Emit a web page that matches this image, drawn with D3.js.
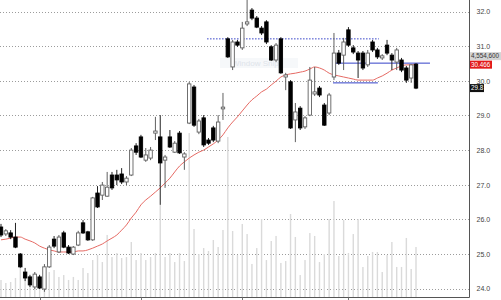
<!DOCTYPE html>
<html>
<head>
<meta charset="utf-8">
<script src="https://cdn.jsdelivr.net/npm/d3@7"></script>
<style>
  body { margin: 0; background: #fff; }
  svg { display: block; }
  text { font-family: "Liberation Sans", Arial, sans-serif; }
</style>
</head>
<body>
<svg id="chart" width="501" height="300"></svg>
<script>
"use strict";

// === Daily bars, oldest first ===
const opens = [
  25.78, 25.58, 25.61, 25.49, 25.00, 24.48, 24.34, 24.05, 24.34, 23.99,
  24.63, 25.43, 25.06, 25.61, 25.20, 25.00, 25.26, 25.90, 25.64, 25.41,
  26.76, 26.70, 26.67, 27.28, 27.28, 27.31, 27.08, 27.28, 28.12, 28.38,
  27.71, 27.77, 28.49, 28.38, 27.71, 28.38, 27.94, 28.49, 27.80, 28.78,
  29.82, 28.52, 28.93, 28.29, 28.64, 28.26, 29.19, 31.21, 30.40, 31.12,
  30.95, 31.64, 32.04, 31.81, 31.52, 31.70, 30.98, 30.60, 31.21, 30.11,
  29.97, 28.87, 29.21, 28.67, 29.01, 29.62, 29.79, 29.30, 29.07, 30.11,
  30.80, 30.74, 31.47, 30.95, 30.80, 30.80, 30.46, 31.12, 30.89, 30.66,
  31.03, 30.74, 30.54, 30.60, 30.37, 30.08, 30.48
];
const highs = [
  25.87, 25.72, 25.69, 25.90, 25.03, 24.60, 24.40, 24.48, 24.40, 24.71,
  25.26, 25.52, 25.55, 25.67, 25.26, 25.23, 25.67, 25.98, 25.67, 26.65,
  26.96, 27.08, 27.37, 27.37, 27.43, 27.48, 27.25, 28.06, 28.20, 28.44,
  28.06, 28.09, 28.96, 29.01, 27.86, 28.58, 28.26, 28.55, 27.94, 29.97,
  29.88, 28.90, 29.01, 28.35, 28.70, 29.01, 29.65, 31.26, 31.18, 31.18,
  31.70, 32.35, 32.10, 31.87, 31.58, 31.75, 31.03, 31.09, 31.26, 30.23,
  30.02, 29.36, 29.27, 28.98, 30.40, 30.40, 29.85, 29.36, 29.65, 31.38,
  30.89, 31.24, 31.55, 31.03, 30.86, 30.86, 30.89, 31.18, 30.95, 30.77,
  31.18, 30.80, 30.95, 30.66, 30.43, 30.48, 30.51
];
const lows = [
  25.49, 25.52, 25.43, 25.17, 24.60, 24.22, 24.05, 23.99, 23.99, 23.91,
  24.60, 25.17, 25.03, 25.17, 25.00, 24.97, 25.23, 25.58, 25.38, 25.38,
  26.33, 26.56, 26.65, 26.85, 26.99, 27.02, 26.99, 27.25, 27.86, 27.77,
  27.66, 27.71, 28.29, 26.42, 26.91, 28.06, 27.92, 27.89, 27.43, 28.75,
  28.67, 28.46, 28.09, 28.15, 28.23, 28.20, 28.87, 30.66, 30.31, 30.98,
  30.89, 31.58, 31.75, 31.52, 31.32, 31.06, 30.57, 30.54, 30.20, 29.73,
  28.61, 28.23, 28.58, 28.61, 28.98, 29.56, 29.53, 28.70, 29.01, 30.02,
  30.46, 30.31, 30.98, 30.77, 30.08, 30.31, 30.40, 30.83, 30.63, 30.60,
  30.74, 30.31, 30.31, 30.25, 29.94, 29.94, 29.76
];
const closes = [
  25.55, 25.67, 25.49, 25.20, 24.63, 24.31, 24.11, 24.42, 24.02, 24.63,
  25.20, 25.23, 25.49, 25.20, 25.03, 25.20, 25.61, 25.61, 25.41, 26.62,
  26.36, 26.99, 26.93, 26.91, 27.14, 27.08, 27.19, 28.00, 27.94, 27.80,
  27.86, 28.00, 28.55, 27.63, 27.80, 28.09, 28.20, 27.92, 27.89, 29.91,
  28.72, 28.84, 28.15, 28.20, 28.29, 28.81, 29.24, 30.69, 31.12, 31.03,
  31.52, 31.70, 31.81, 31.55, 31.38, 31.12, 30.60, 31.03, 30.23, 30.17,
  28.64, 29.10, 28.64, 28.93, 30.02, 29.68, 29.59, 28.72, 29.59, 30.80,
  30.51, 31.12, 31.03, 30.83, 30.60, 30.37, 30.80, 30.89, 30.69, 30.72,
  30.80, 30.60, 30.89, 30.31, 30.02, 30.46, 29.79
];
// volume in millions of shares
const volumes = [
  1.61, 1.34, 1.43, 1.79, 2.68, 1.88, 1.79, 2.32, 1.88, 1.34,
  2.32, 2.50, 1.88, 2.05, 1.61, 1.88, 1.61, 2.68, 2.23, 3.39,
  3.84, 3.21, 5.63, 3.66, 4.02, 3.57, 3.66, 5.00, 3.39, 4.02,
  3.39, 3.66, 4.02, 8.30, 3.66, 4.02, 3.21, 4.02, 3.30, 14.73,
  6.16, 3.93, 4.46, 4.20, 5.18, 4.55, 6.07, 14.38, 5.98, 3.84,
  6.61, 5.71, 3.04, 4.46, 7.05, 3.39, 5.09, 5.54, 3.13, 3.30,
  7.50, 5.45, 2.05, 3.39, 5.80, 5.54, 3.21, 3.93, 7.05, 8.66,
  3.75, 6.96, 4.02, 5.71, 7.05, 2.77, 3.75, 4.11, 4.11, 2.32,
  3.84, 5.00, 2.77, 2.77, 5.36, 2.59, 4.5546
];
// moving average of the close
const maValues = [
  25.41, 25.43, 25.46, 25.49, 25.49, 25.43, 25.38, 25.32, 25.23, 25.17,
  25.12, 25.09, 25.06, 25.06, 25.06, 25.06, 25.09, 25.09, 25.12, 25.17,
  25.23, 25.29, 25.38, 25.46, 25.55, 25.69, 25.84, 26.04, 26.21, 26.42,
  26.56, 26.67, 26.79, 26.91, 27.05, 27.19, 27.37, 27.54, 27.66, 27.77,
  27.86, 27.94, 28.00, 28.09, 28.18, 28.29, 28.44, 28.64, 28.81, 28.96,
  29.13, 29.30, 29.45, 29.56, 29.68, 29.76, 29.88, 29.99, 30.11, 30.17,
  30.20, 30.22, 30.25, 30.28, 30.34, 30.40, 30.37, 30.31, 30.22, 30.17,
  30.14, 30.11, 30.08, 30.05, 30.02, 30.02, 30.02, 30.02, 30.08, 30.14,
  30.22, 30.31, 30.37, 30.43, 30.46, 30.46, 30.466
];

const priceTicks = [24, 25, 26, 27, 28, 29, 30, 31, 32];
const monthTicks = [8, 29, 50, 72];

// drawn level lines: price, first bar, last bar
const levelPrices = [31.21, 30.51, 29.94];
const levelStarts = [42.7, 68.8, 68.8];
const levelEnds   = [78.3, 88.9, 78.1];
const levelDashed = [true, false, false];

// === Layout ===
const plotRight = 469.5;
const plotBottom = 297.5;

const svg = d3.select('#chart');

const x = d3.scaleLinear().domain([0, closes.length - 1]).range([1, 416]);
const y = d3.scaleLinear().domain([24, 32]).range([288.7, 11.5]);
const yVol = d3.scaleLinear().domain([0, 10]).range([298, 186]);

svg.append('defs').append('clipPath').attr('id', 'plot')
  .append('rect').attr('x', 0).attr('y', 0)
  .attr('width', plotRight).attr('height', plotBottom);

const plot = svg.append('g').attr('clip-path', 'url(#plot)');

// === Grid (dotted) ===
plot.selectAll('line.grid').data(priceTicks).enter().append('line')
  .attr('class', 'grid')
  .attr('x1', 0).attr('x2', plotRight)
  .attr('y1', d => Math.round(y(d)) + 0.5).attr('y2', d => Math.round(y(d)) + 0.5)
  .attr('stroke', '#9c9c9c').attr('stroke-dasharray', '1,2');

// === Volume ===
plot.selectAll('rect.vol').data(volumes).enter().append('rect')
  .attr('class', 'vol')
  .attr('x', (d, i) => x(i) - 0.7).attr('width', 1.4)
  .attr('y', d => yVol(d)).attr('height', d => 298 - yVol(d))
  .attr('fill', '#dadada');

// faint screen-capture watermark
plot.append('rect').attr('x', 220).attr('y', 58).attr('width', 78).attr('height', 10)
  .attr('fill', '#eef2f6').attr('opacity', 0.5);
plot.append('text').attr('x', 232).attr('y', 66)
  .attr('font-size', 8).attr('fill', '#dfe4ea').text('Window Snip');

// === Moving average ===
plot.append('path').datum(maValues)
  .attr('fill', 'none').attr('stroke', '#e66a64').attr('stroke-width', 1)
  .attr('d', d3.line().x((d, i) => x(i)).y(d => y(d)).curve(d3.curveMonotoneX));

// === Level lines ===
levelPrices.forEach((p, k) => {
  plot.append('line')
    .attr('x1', x(levelStarts[k])).attr('x2', x(levelEnds[k]))
    .attr('y1', y(p)).attr('y2', y(p))
    .attr('stroke', '#3340c8').attr('stroke-width', 1)
    .attr('stroke-dasharray', levelDashed[k] ? '1.5,1.5' : null);
});

// === Candles ===
const bars = d3.range(closes.length);
const bodyW = 3.4;

plot.selectAll('line.wick').data(bars).enter().append('line')
  .attr('class', 'wick')
  .attr('x1', i => x(i)).attr('x2', i => x(i))
  .attr('y1', i => y(highs[i])).attr('y2', i => y(lows[i]))
  .attr('stroke', i => closes[i] >= opens[i] ? '#606060' : '#222')
  .attr('stroke-width', 1);

plot.selectAll('rect.body').data(bars).enter().append('rect')
  .attr('class', 'body')
  .attr('x', i => x(i) - bodyW / 2).attr('width', bodyW)
  .attr('y', i => y(Math.max(opens[i], closes[i])))
  .attr('height', i => Math.max(1.5, Math.abs(y(opens[i]) - y(closes[i]))))
  .attr('fill', i => closes[i] >= opens[i] ? '#fff' : '#000')
  .attr('stroke', i => closes[i] >= opens[i] ? '#606060' : '#000')
  .attr('stroke-width', 0.9);

// === Axes frame ===
svg.append('line').attr('x1', plotRight).attr('x2', plotRight)
  .attr('y1', 0).attr('y2', plotBottom).attr('stroke', '#555');
svg.append('line').attr('x1', 0).attr('x2', plotRight)
  .attr('y1', plotBottom).attr('y2', plotBottom).attr('stroke', '#555');

svg.selectAll('line.mtick').data(monthTicks).enter().append('line')
  .attr('class', 'mtick')
  .attr('x1', d => Math.round(x(d)) + 0.5).attr('x2', d => Math.round(x(d)) + 0.5)
  .attr('y1', plotBottom).attr('y2', 300).attr('stroke', '#777');

const yAxis = svg.append('g')
  .attr('transform', `translate(${plotRight},0)`)
  .call(d3.axisRight(y).tickValues(priceTicks).tickSize(0).tickPadding(7)
    .tickFormat(d3.format('.1f')));
yAxis.select('.domain').remove();
yAxis.selectAll('text')
  .attr('font-family', '"Liberation Sans", Arial, sans-serif')
  .attr('font-size', 7).attr('fill', '#444');

// === Last-value flags ===
const last = closes.length - 1;
const flags = [
  { v: y(maValues[last]) - 8.5, label: d3.format(',')(Math.round(volumes[last] * 1e6)), bg: '#d4d4d4', fg: '#333', w: 32 },
  { v: y(maValues[last]), label: d3.format('.3f')(maValues[last]), bg: '#e21b1b', fg: '#fff', w: 22 },
  { v: y(closes[last]), label: d3.format('.1f')(closes[last]), bg: '#111', fg: '#fff', w: 14 }
];
flags.forEach(f => {
  svg.append('rect').attr('x', 470).attr('y', f.v - 4).attr('width', f.w).attr('height', 8)
    .attr('fill', f.bg);
  svg.append('text').attr('x', 471).attr('y', f.v + 2.3)
    .attr('font-size', 6.3).attr('fill', f.fg).text(f.label);
});
</script>
</body>
</html>
